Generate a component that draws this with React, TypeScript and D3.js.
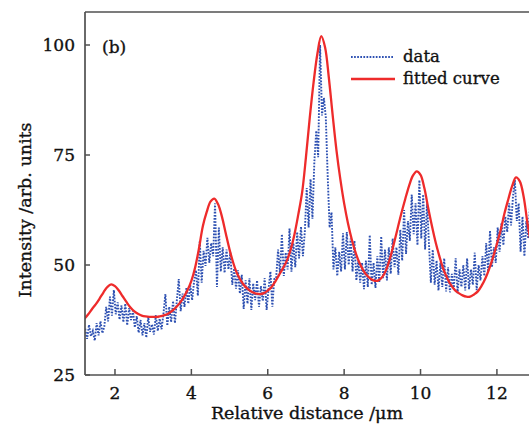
import React from "react";
import * as d3 from "d3";

// ---- data ----
const dataStart = 1.22;
const dataStep = 0.05;
const dataY = [
  35.5, 33.2, 36.4, 33.8, 35.0, 32.8, 36.8, 34.0, 37.2, 34.5,
  36.0, 40.5, 37.2, 42.8, 38.5, 44.3, 38.8, 41.5, 37.6, 40.8,
  37.0, 41.2, 36.3, 40.2, 37.5, 39.6, 35.8, 38.4, 34.6, 37.5,
  34.0, 36.8, 33.5, 38.2, 34.8, 36.5, 34.2, 38.6, 35.0, 37.8,
  35.4, 39.0, 43.4, 36.2, 40.5, 37.0, 41.8, 36.8, 42.0, 46.8,
  39.5, 43.5, 40.5, 44.8, 41.2, 45.5, 42.0, 46.2, 48.8, 43.0,
  55.5, 46.0, 53.2, 49.8, 56.2, 50.5, 55.0, 52.0, 64.0, 45.0,
  58.5, 48.5, 54.0, 48.2, 53.5, 49.0, 52.8, 45.5, 49.2, 44.6,
  48.8, 43.5, 47.8, 40.0, 46.5, 41.2, 47.0, 39.8, 45.8, 42.0,
  46.5, 40.5, 45.2, 41.8, 47.0, 39.8, 44.5, 48.5, 40.5, 46.8,
  47.0, 53.5, 48.0, 57.0, 47.5, 52.8, 49.0, 58.3, 48.5, 55.0,
  49.5, 57.5, 51.5, 58.7, 52.0, 57.5, 67.5, 58.5, 69.5, 60.5,
  73.5, 80.5, 74.5, 100.0, 84.0, 88.0, 83.5, 70.0, 58.5, 62.0,
  49.0, 54.0, 47.5, 53.0, 48.5, 57.2, 49.0, 57.5, 50.0, 56.0,
  48.5, 55.5, 46.5, 51.0, 46.0, 50.5, 44.5, 51.0, 45.0, 56.8,
  45.5, 50.5, 44.8, 52.0, 46.0, 56.5, 47.0, 53.5, 46.5, 54.0,
  48.0, 56.0, 49.5, 54.0, 47.8, 58.0, 51.0, 62.5, 52.5, 60.0,
  55.5, 66.0, 57.0, 64.0, 54.5, 69.3, 56.0, 66.0, 53.5, 64.0,
  55.0, 46.0, 53.5, 45.5, 51.0, 44.2, 50.5, 45.0, 51.5, 44.0,
  49.5, 43.8, 48.0, 44.5, 51.5, 43.6, 49.0, 45.0, 50.0, 44.2,
  51.5, 44.5, 49.0, 45.5, 52.8, 44.3, 50.0, 46.5, 52.0, 47.5,
  55.0, 48.5, 57.8, 49.5, 54.0, 50.5, 58.5, 53.0, 59.5, 54.5,
  61.0, 57.5, 64.0, 59.0, 65.5, 69.3, 60.0, 64.0, 53.0, 61.0,
  52.0, 60.0, 56.0, 64.0,
];

const fitStart = 1.2;
const fitStep = 0.1;
const fitY = [
  37.8, 38.8, 40.0, 41.1, 42.4, 43.8, 45.0, 45.6, 45.2, 44.2,
  42.9, 41.6, 40.4, 39.5, 38.9, 38.5, 38.3, 38.2, 38.2, 38.2,
  38.4, 38.6, 39.0, 39.6, 40.4, 41.4, 42.7, 44.3, 46.4, 49.5,
  53.8, 58.8, 62.0, 64.4, 65.1, 63.8, 61.0, 57.2, 53.5, 50.4,
  48.0, 46.4, 45.2, 44.4, 43.8, 43.5, 43.4, 43.6, 44.2, 45.0,
  46.3, 47.8, 49.3, 51.0, 53.5, 57.0, 61.5, 66.5, 74.5, 83.5,
  91.5, 98.0, 102.0, 99.5, 92.5, 84.0, 76.0, 69.5, 64.0, 59.5,
  55.8, 52.8, 50.5, 48.8, 47.6, 46.8, 46.4, 46.5, 47.3, 48.9,
  51.5, 54.8, 58.3, 61.8, 65.0, 68.0, 70.3, 71.3, 70.5, 67.5,
  63.0, 58.8, 55.0, 51.8, 49.0, 47.0, 45.4, 44.3, 43.6, 43.1,
  42.8, 42.8, 43.3, 44.0, 45.3, 47.0, 49.2, 51.8, 54.8, 58.0,
  61.8, 65.0, 68.0, 69.9, 69.0, 65.5, 59.5, 54.5,
];

const xTicks = [2, 4, 6, 8, 10, 12];
const yTicks = [25, 50, 75, 100];
const xLabel = "Relative distance /\u03bcm";
const yLabel = "Intensity /arb. units";
const panelLabel = "(b)";
const legendLabels = ["data", "fitted curve"];

// ---- layout ----
const W = 529;
const H = 425;
const left = 85;
const top = 12;
const bottom = 375;
const right = 529;

const axisColor = "#505050";
const blue = "#2d50b2";
const red = "#ee2b2b";
const font = "'DejaVu Serif', serif";
const textStroke = { stroke: "#111", strokeWidth: 0.35 };

export default function App() {
  const x = d3.scaleLinear().domain([1.215, 12.84]).range([left, right]);
  const y = d3.scaleLinear().domain([25, 107.5]).range([bottom, top]);

  const dataPts: [number, number][] = dataY.map((v, i) => [dataStart + i * dataStep, v]);
  const fitPts: [number, number][] = fitY.map((v, i) => [fitStart + i * fitStep, v]);

  const dataLine = d3
    .line<[number, number]>()
    .x((d) => x(d[0]))
    .y((d) => y(d[1]));
  const fitLine = d3
    .line<[number, number]>()
    .x((d) => x(d[0]))
    .y((d) => y(d[1]))
    .curve(d3.curveCatmullRom.alpha(0.5));

  return (
    <div style={{ position: "fixed", left: 0, top: 0 }}>
      <svg width={W} height={H} style={{ display: "block", background: "#fff" }}>
        <defs>
          <clipPath id="plot">
            <rect x={left} y={top} width={right - left} height={bottom - top} />
          </clipPath>
        </defs>

        <g clipPath="url(#plot)">
          <path
            d={dataLine(dataPts) || ""}
            fill="none"
            stroke={blue}
            strokeWidth={1.9}
            strokeDasharray="1.7 1.4"
          />
          <path d={fitLine(fitPts) || ""} fill="none" stroke={red} strokeWidth={2.3} />
        </g>

        {/* frame */}
        <line x1={left} x2={right} y1={top} y2={top} stroke={axisColor} strokeWidth={1.7} />
        <line x1={left} x2={left} y1={top} y2={bottom} stroke={axisColor} strokeWidth={1.7} />
        <line x1={left} x2={right} y1={bottom} y2={bottom} stroke={axisColor} strokeWidth={1.7} />

        {/* x ticks */}
        {xTicks.map((t) => (
          <g key={"x" + t}>
            <line x1={x(t)} x2={x(t)} y1={bottom} y2={bottom - 6} stroke={axisColor} strokeWidth={1.5} />
            <text x={x(t)} y={399} textAnchor="middle" fontFamily={font} fontSize={17} fill="#111" {...textStroke}>
              {t}
            </text>
          </g>
        ))}

        {/* y ticks */}
        {yTicks.map((t) => (
          <g key={"y" + t}>
            <line x1={left} x2={left + 5} y1={y(t)} y2={y(t)} stroke={axisColor} strokeWidth={1.5} />
            <text x={75} y={y(t) + 6} textAnchor="end" fontFamily={font} fontSize={17} fill="#111" {...textStroke}>
              {t}
            </text>
          </g>
        ))}

        {/* axis titles */}
        <text x={307} y={419} textAnchor="middle" fontFamily={font} fontSize={17.5} fill="#111" {...textStroke}>
          {xLabel}
        </text>
        <text
          transform={`translate(31,210) rotate(-90)`}
          textAnchor="middle"
          fontFamily={font}
          fontSize={17.5}
          fill="#111"
          {...textStroke}
        >
          {yLabel}
        </text>

        {/* panel label */}
        <text x={102} y={53} fontFamily={font} fontSize={17} fill="#111" {...textStroke}>
          {panelLabel}
        </text>

        {/* legend */}
        <line x1={351} x2={394} y1={57} y2={57} stroke={blue} strokeWidth={1.9} strokeDasharray="1.7 1.4" />
        <text x={403} y={62} fontFamily={font} fontSize={16.5} fill="#111" {...textStroke}>
          {legendLabels[0]}
        </text>
        <line x1={351} x2={395} y1={79} y2={79} stroke={red} strokeWidth={2.3} />
        <text x={403} y={84} fontFamily={font} fontSize={16.5} fill="#111" {...textStroke}>
          {legendLabels[1]}
        </text>
      </svg>
    </div>
  );
}
